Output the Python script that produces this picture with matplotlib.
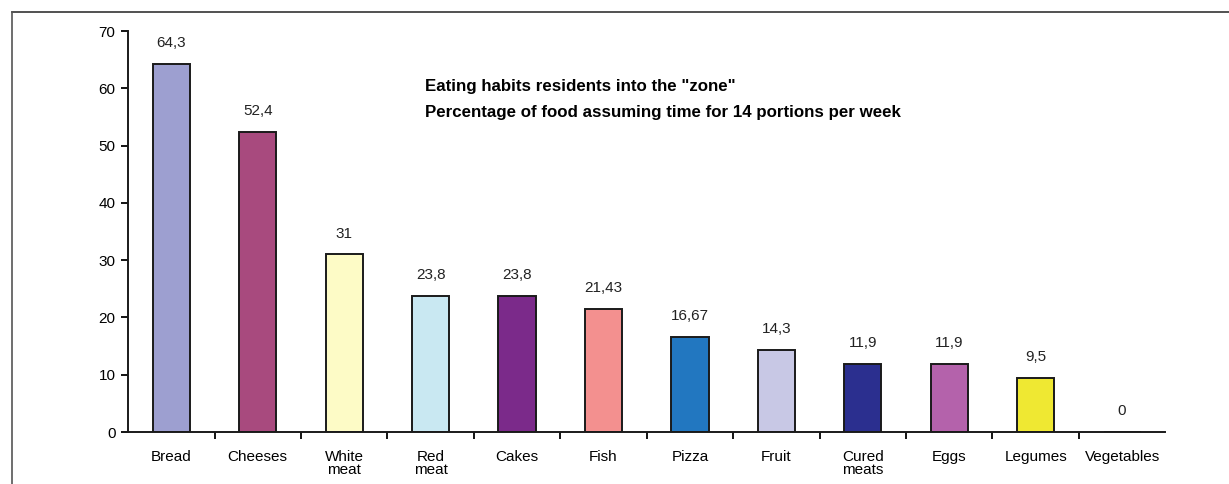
import matplotlib.pyplot as plt
from matplotlib.lines import Line2D

plt.rcParams["font.family"] = ["Liberation Sans", "DejaVu Sans"]

# Data
foods = ["Bread", "Cheeses", "White\nmeat", "Red\nmeat", "Cakes", "Fish", "Pizza",
         "Fruit", "Cured\nmeats", "Eggs", "Legumes", "Vegetables"]
values = [64.3, 52.4, 31, 23.8, 23.8, 21.43, 16.67, 14.3, 11.9, 11.9, 9.5, 0]
value_labels = ["64,3", "52,4", "31", "23,8", "23,8", "21,43", "16,67", "14,3",
                "11,9", "11,9", "9,5", "0"]
colors = ["#9d9fd0", "#a84a7e", "#fdfbc6", "#c9e8f2", "#7b2a8a", "#f3908f",
          "#2277c0", "#c8c8e5", "#2b2f8f", "#b462ab", "#efe832", "#ffffff"]

fig = plt.figure(figsize=(12.29, 4.84), dpi=100)
ax = fig.add_axes([0.1042, 0.1074, 0.8440, 0.8285])

x = list(range(len(foods)))
ax.bar(x, values, width=0.43, color=colors, edgecolor="#1a1a1a", linewidth=1.4)

for xi, v, lab in zip(x, values, value_labels):
    ax.annotate(lab, (xi, v), xytext=(0, 10), textcoords="offset points",
                ha="center", va="bottom", fontsize=11, color="#222222")

ax.set_xlim(-0.5, len(foods) - 0.5)
ax.set_ylim(0, 70)
ax.set_yticks(range(0, 71, 10))
ax.set_xticks([i - 0.5 for i in range(1, len(foods))])
ax.set_xticklabels([])
ax.set_xticks(x, minor=True)
ax.set_xticklabels(foods, minor=True, fontsize=11, linespacing=0.9)
ax.tick_params(axis="x", which="minor", length=0, pad=13)
ax.tick_params(axis="x", which="major", length=5, width=1.3, direction="out")
ax.tick_params(axis="y", length=5, width=1.3, labelsize=11, pad=4)

for side in ["top", "right"]:
    ax.spines[side].set_visible(False)
for side in ["left", "bottom"]:
    ax.spines[side].set_linewidth(1.4)
    ax.spines[side].set_color("#1a1a1a")

fig.text(0.346, 0.822, 'Eating habits residents into the "zone"', fontsize=12.2,
         fontweight="bold", va="center")
fig.text(0.346, 0.768, "Percentage of food assuming time for 14 portions per week",
         fontsize=12.2, fontweight="bold", va="center")

# outer frame (cut off on the right and bottom)
fig.add_artist(Line2D([0.0098, 1.0], [0.975, 0.975], transform=fig.transFigure,
                      color="#333333", linewidth=1.2))
fig.add_artist(Line2D([0.0098, 0.0098], [0.0, 0.975], transform=fig.transFigure,
                      color="#555555", linewidth=1.2))

fig.savefig("out.png", dpi=100)
